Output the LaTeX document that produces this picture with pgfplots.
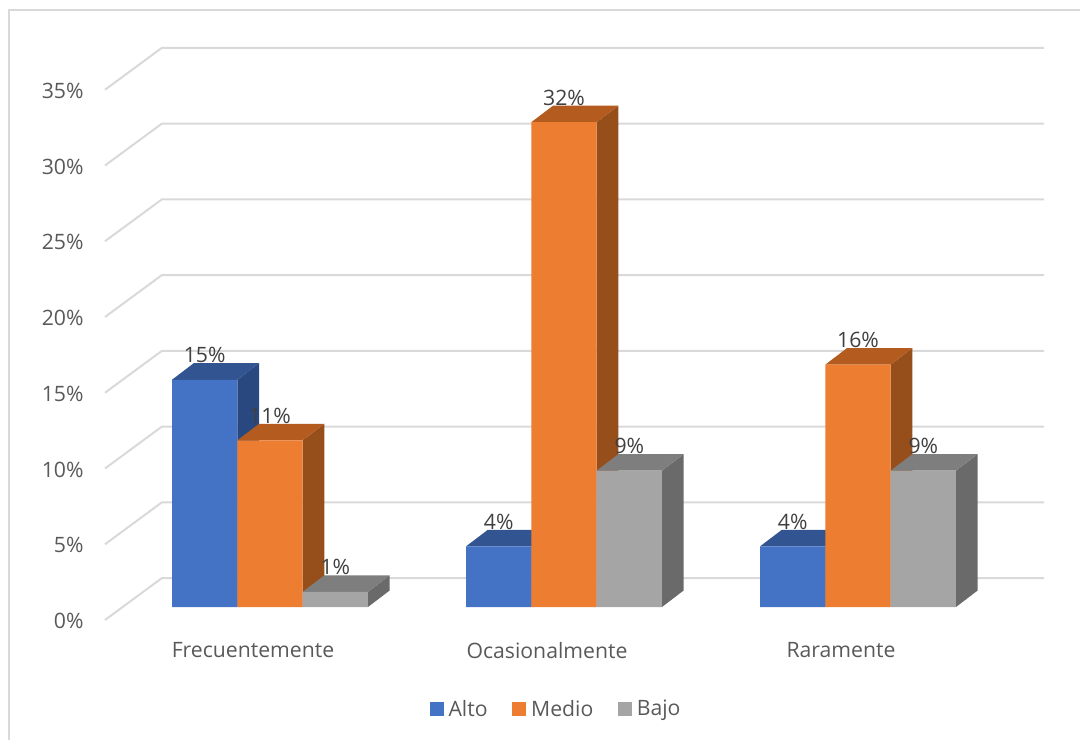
\documentclass[border=0pt]{standalone}
\usepackage{fontspec}
\setmainfont{Open Sans}
\usepackage{pgfplots}
\pgfplotsset{compat=1.18}
\definecolor{altoF}{HTML}{4472C4}
\definecolor{altoT}{HTML}{325591}
\definecolor{altoS}{HTML}{2A4880}
\definecolor{medioF}{HTML}{ED7D31}
\definecolor{medioT}{HTML}{B45C20}
\definecolor{medioS}{HTML}{964E1B}
\definecolor{bajoF}{HTML}{A5A5A5}
\definecolor{bajoT}{HTML}{7E7E7E}
\definecolor{bajoS}{HTML}{6A6A6A}
\definecolor{gridc}{HTML}{D9D9D9}
\definecolor{axtext}{HTML}{595959}
\definecolor{lbltext}{HTML}{404040}
\newcommand{\bw}{0.2222}
\newcommand{\ddx}{0.0738}
\newcommand{\ddy}{1.09}
\newcommand{\chartfont}{\fontsize{21.2}{25}\selectfont}
% side and top faces of one bar: category, position in group, value, colour
\newcommand{\faces}[4]{%
  \pgfmathsetmacro\xa{#1+(#2-0.5)*\bw}%
  \pgfmathsetmacro\xb{\xa+\bw}%
  \pgfmathsetmacro\xc{\xb+\ddx}%
  \pgfmathsetmacro\xd{\xa+\ddx}%
  \pgfmathsetmacro\vd{#3+\ddy}%
  \addplot[forget plot,fill=#4S,draw=none] coordinates {(\xb,0) (\xc,\ddy) (\xc,\vd) (\xb,#3)} --cycle;
  \addplot[forget plot,fill=#4T,draw=none] coordinates {(\xa,#3) (\xd,\vd) (\xc,\vd) (\xb,#3)} --cycle;
}
\pgfplotsset{
  front/.style={ybar,bar width=\bw,bar shift=#1*\bw,draw=none,
    nodes near coords={\pgfmathprintnumber{\pgfplotspointmeta}\%},
    every node near coord/.append style={font=\chartfont,text=lbltext,anchor=center,xshift=#1*65.33pt,yshift=24.5pt,inner sep=0pt}},
  wall/.style={forget plot,color=gridc,line width=2pt,line join=miter},
}
\begin{document}
\begin{tikzpicture}
\useasboundingbox (0,0) rectangle (1080pt,740pt);
\draw[gridc,line width=2pt] (9pt,0) -- (9pt,730pt) -- (1080pt,730pt);
\begin{axis}[
  at={(105pt,117.85pt)},
  anchor=south west,
  scale only axis,
  width=939pt,
  height=575.7pt,
  xmin=-0.5612, xmax=2.6327,
  ymin=-1, ymax=37,
  clip=false,
  axis line style={draw=none},
  major tick length=0pt,
  tick style={draw=none},
  xtick={0,1,2},
  xticklabels={Frecuentemente,Ocasionalmente,Raramente},
  ytick={0,5,...,35},
  yticklabels={0\%,5\%,10\%,15\%,20\%,25\%,30\%,35\%},
  tick label style={font=\chartfont,text=axtext},
  xticklabel style={xshift=-17pt,yshift=-17pt},
  yticklabel style={yshift=-14pt,xshift=-18pt},
  /pgf/number format/assume math mode=true,
  legend columns=3,
  legend style={at={(axis cs:0.973,-6.73)},anchor=center,draw=none,fill=none,
    font=\chartfont,text=axtext,
    /tikz/every even column/.append style={column sep=22.5pt}},
  legend image code/.code={\fill[#1] (0pt,-7pt) rectangle (14pt,7pt); \path (17pt,0pt);},
]
% back wall gridlines with the left wall diagonals
\addplot[wall] coordinates {(-0.5612,-0.858) (-0.3673,1.914) (2.6327,1.914)};
\addplot[wall] coordinates {(-0.5612,4.142) (-0.3673,6.914) (2.6327,6.914)};
\addplot[wall] coordinates {(-0.5612,9.142) (-0.3673,11.914) (2.6327,11.914)};
\addplot[wall] coordinates {(-0.5612,14.142) (-0.3673,16.914) (2.6327,16.914)};
\addplot[wall] coordinates {(-0.5612,19.142) (-0.3673,21.914) (2.6327,21.914)};
\addplot[wall] coordinates {(-0.5612,24.142) (-0.3673,26.914) (2.6327,26.914)};
\addplot[wall] coordinates {(-0.5612,29.142) (-0.3673,31.914) (2.6327,31.914)};
\addplot[wall] coordinates {(-0.5612,34.142) (-0.3673,36.914) (2.6327,36.914)};
% faces are drawn left to right, fronts over them
\faces{0}{-1}{15}{alto}
\faces{1}{-1}{4}{alto}
\faces{2}{-1}{4}{alto}
\addplot[front=-1,fill=altoF] coordinates {(0,15) (1,4) (2,4)};
\addlegendentry{Alto}
\faces{0}{0}{11}{medio}
\faces{1}{0}{32}{medio}
\faces{2}{0}{16}{medio}
\addplot[front=0,fill=medioF] coordinates {(0,11) (1,32) (2,16)};
\addlegendentry{Medio}
\faces{0}{1}{1}{bajo}
\faces{1}{1}{9}{bajo}
\faces{2}{1}{9}{bajo}
\addplot[front=1,fill=bajoF] coordinates {(0,1) (1,9) (2,9)};
\addlegendentry{Bajo}
\end{axis}
\end{tikzpicture}
\end{document}
